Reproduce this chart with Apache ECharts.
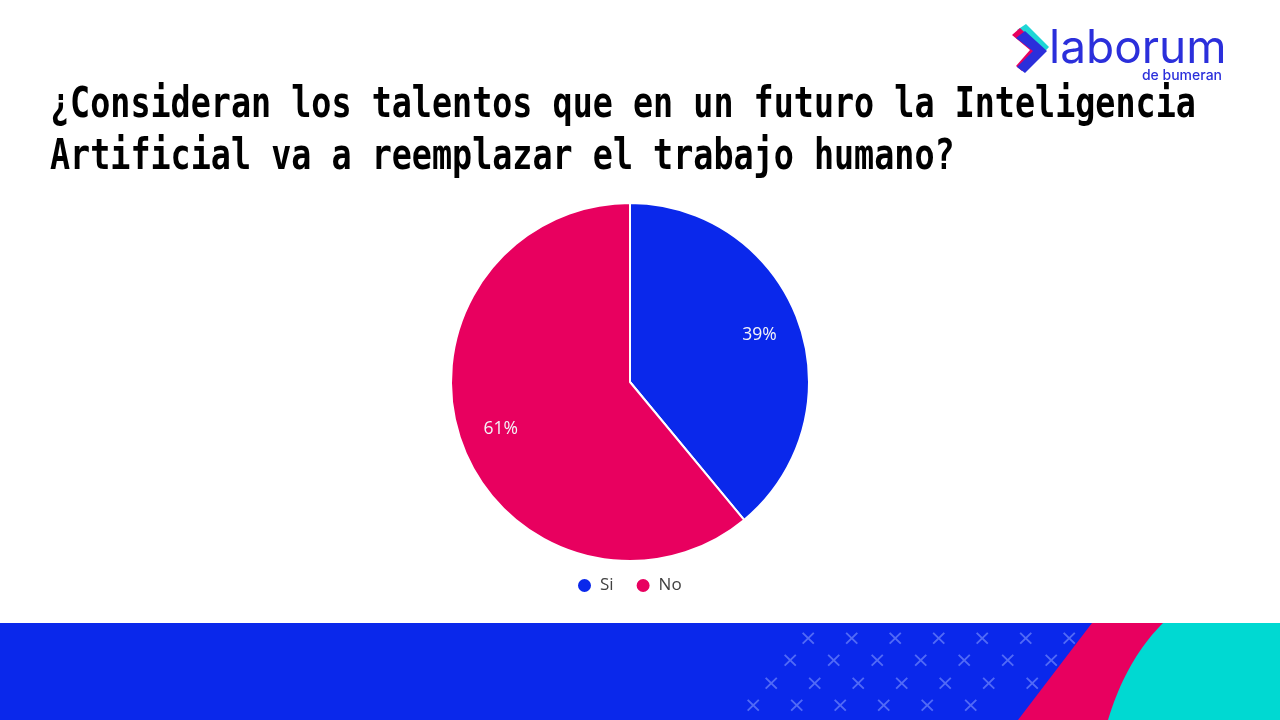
<!DOCTYPE html>
<html><head><meta charset="utf-8">
<script src="https://cdn.jsdelivr.net/npm/echarts@6/dist/echarts.min.js"></script>
<style>html,body{margin:0;padding:0;background:#fff}#c{width:1280px;height:720px}</style>
</head><body><div id="c"></div>
<script>
const titleText = "¿Consideran los talentos que en un futuro la Inteligencia\nArtificial va a reemplazar el trabajo humano?";
const categories = ["Si", "No"];
const values = [39, 61];
const colors = ["#0A28EB", "#E8005F"];

const chart = echarts.init(document.getElementById('c'));
const data = categories.map((n, i) => ({ name: n, value: values[i], itemStyle: { color: colors[i] } }));

// decorative crosses in band
const crosses = [];
const rows = [[640, 805, 7], [662, 787, 7], [685, 768, 7], [707, 750, 6]];
rows.forEach(r => {
  for (let k = 0; k < r[2]; k++) {
    crosses.push({ type: 'text', x: r[1] + k * 43.5 - 6, y: r[0] - 12, silent: true,
      style: { text: '×', font: '22px "DejaVu Sans"', fill: 'rgba(140,160,255,0.55)' } });
  }
});

// cyan curved shape edge (quadratic bezier)
const cyanPts = [[1280, 623], [1280, 720]];
for (let i = 0; i <= 20; i++) {
  const t = i / 20;
  const p0 = [1108, 720], p1 = [1126, 660], p2 = [1163, 623];
  const x = (1 - t) * (1 - t) * p0[0] + 2 * (1 - t) * t * p1[0] + t * t * p2[0];
  const y = (1 - t) * (1 - t) * p0[1] + 2 * (1 - t) * t * p1[1] + t * t * p2[1];
  cyanPts.push([x, y]);
}

chart.setOption({
  backgroundColor: '#ffffff',
  animation: false,
  legend: {
    data: categories, bottom: 121, left: 571, icon: 'circle', itemWidth: 15, itemHeight: 15, itemGap: 21,
    textStyle: { fontFamily: 'Open Sans', fontSize: 17, color: '#404040', padding: [0, 0, 0, 3] }
  },
  series: [
    { type: 'pie', center: [630, 382], radius: 179, startAngle: 90, clockwise: true, silent: true,
      data: data, label: { show: false }, labelLine: { show: false },
      itemStyle: { borderColor: '#fff', borderWidth: 2 } },
    { type: 'pie', center: [630, 382], radius: [90, 179], startAngle: 90, clockwise: true, silent: true,
      data: data.map(d => ({ name: d.name, value: d.value, itemStyle: { color: 'rgba(0,0,0,0)' } })),
      itemStyle: { borderWidth: 0 },
      label: { show: true, position: 'inside', formatter: '{c}%', fontFamily: 'Open Sans', fontSize: 17.5, color: '#f4f4f8' },
      labelLine: { show: false } }
  ],
  graphic: [
    { type: 'text', x: 50, y: 80.5, originX: 0, originY: 0, scaleY: 1.25, silent: true,
      style: { text: titleText, font: 'bold 33.4px "DejaVu Sans Mono"', lineHeight: 41.6, fill: '#000', verticalAlign: 'top' } },
    { type: 'rect', shape: { x: 0, y: 623, width: 1280, height: 97 }, style: { fill: '#0A28EB' }, silent: true },
    ...crosses,
    { type: 'polygon', shape: { points: [[1092, 623], [1280, 623], [1280, 720], [1018, 720]] }, style: { fill: '#E8005F' }, silent: true },
    { type: 'polygon', shape: { points: cyanPts }, style: { fill: '#00D9D2' }, silent: true },
    // logo
    { type: 'polygon', shape: { points: [[1017, 30], [1026, 24], [1049, 47], [1029, 68], [1023, 62], [1036, 47]] }, style: { fill: '#1FD6D6' }, silent: true },
    { type: 'polygon', shape: { points: [[1012, 35], [1020, 28], [1043, 50], [1022, 71], [1016, 66], [1030, 50]] }, style: { fill: '#E8005F' }, silent: true },
    { type: 'polygon', shape: { points: [[1016, 38], [1025, 31], [1047, 51], [1025, 73], [1017, 67], [1033, 51]] }, style: { fill: '#2B2FDB' }, silent: true },
    { type: 'text', x: 1049, y: 26, silent: true, style: { text: 'laborum', font: '400 46px Inter', fill: '#2B2FDB' } },
    { type: 'text', x: 1222, y: 69, silent: true, style: { text: 'de bumeran', font: '500 14px Inter', fill: '#2B2FDB', align: 'right' } }
  ]
});
</script></body></html>
